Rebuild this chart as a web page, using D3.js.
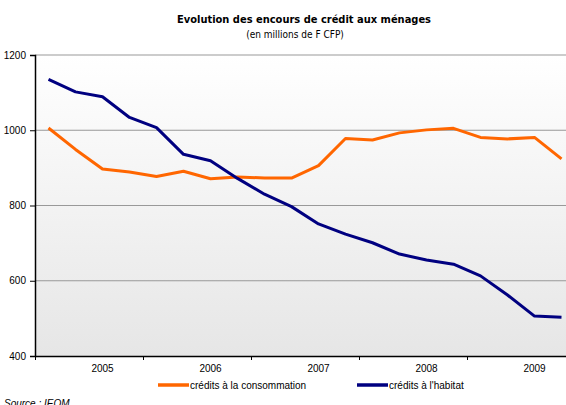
<!DOCTYPE html>
<html>
<head>
<meta charset="utf-8">
<script src="https://d3js.org/d3.v7.min.js"></script>
<style>
  body { margin: 0; background: #fff; }
  svg { display: block; }
</style>
</head>
<body>
<div id="chart"></div>
<script>
// quarterly outstanding amounts, 2005 - 2009
var quarters = ["2005T1","2005T2","2005T3","2005T4","2006T1","2006T2","2006T3","2006T4",
                "2007T1","2007T2","2007T3","2007T4","2008T1","2008T2","2008T3","2008T4",
                "2009T1","2009T2","2009T3","2009T4"];
var years = ["2005","2006","2007","2008","2009"];
var consommation = [1006, 949, 897, 889, 877, 891, 871, 876, 873, 873, 906, 978, 974, 993, 1001, 1005, 981, 977, 981, 924];
var habitat = [1135, 1102, 1089, 1034, 1007, 936, 919, 872, 830, 797, 751, 724, 701, 671, 655, 644, 613, 562, 506, 503];
var yTicks = [400, 600, 800, 1000, 1200];

var width = 566, height = 405;
var plotLeft = 35, plotRight = 575, plotTop = 55, plotBottom = 356;

var svg = d3.select("#chart").append("svg")
  .attr("width", width)
  .attr("height", height);

// background gradient of the plot area
var grad = svg.append("defs").append("linearGradient")
  .attr("id", "bg").attr("x1", 0).attr("y1", 0).attr("x2", 0).attr("y2", 1);
grad.append("stop").attr("offset", "0%").attr("stop-color", "#ffffff");
grad.append("stop").attr("offset", "100%").attr("stop-color", "#e6e6e6");

// x: one slot per quarter
var x = d3.scaleLinear().domain([0, quarters.length]).range([plotLeft, plotRight]);
var y = d3.scaleLinear().domain([400, 1200]).range([plotBottom, plotTop]);

svg.append("rect")
  .attr("x", plotLeft).attr("y", plotTop)
  .attr("width", plotRight - plotLeft).attr("height", plotBottom - plotTop)
  .attr("fill", "url(#bg)");

// gridlines
svg.append("g")
  .selectAll("line")
  .data(yTicks.filter(d => d > 400))
  .enter().append("line")
    .attr("x1", plotLeft).attr("x2", plotRight)
    .attr("y1", d => y(d)).attr("y2", d => y(d))
    .attr("stroke", "#999")
    .attr("stroke-width", 1.2);

// y axis
var yAxis = svg.append("g")
  .attr("transform", "translate(" + plotLeft + ",0)")
  .call(d3.axisLeft(y).tickValues(yTicks).tickSize(5).tickPadding(4).tickFormat(d3.format("d")));
yAxis.select(".domain").attr("stroke", "#000").attr("stroke-width", 1.5);
yAxis.selectAll(".tick line").attr("stroke", "#000");
yAxis.selectAll("text").attr("font-family", "Liberation Sans, Arial").attr("font-size", 10).attr("fill", "#000");

// x axis: ticks between years
var xAxis = svg.append("g")
  .attr("transform", "translate(0," + plotBottom + ")")
  .call(d3.axisBottom(x).tickValues(d3.range(0, quarters.length + 1, 4)).tickSize(4).tickSizeOuter(0).tickFormat(""));
xAxis.select(".domain").attr("stroke", "#000").attr("stroke-width", 1.5);
xAxis.selectAll(".tick line").attr("stroke", "#000");

// year labels
svg.append("g")
  .selectAll("text")
  .data(years)
  .enter().append("text")
    .attr("x", (d, i) => x(i * 4 + 2.5))
    .attr("y", 372)
    .attr("text-anchor", "middle")
    .attr("font-family", "Liberation Sans, Arial")
    .attr("font-size", 10)
    .text(d => d);

// series lines
var line = d3.line()
  .x((d, i) => x(i + 0.5))
  .y(d => y(d));

var series = [
  { name: "crédits à la consommation", values: consommation, color: "#ff6600" },
  { name: "crédits à l'habitat", values: habitat, color: "#000080" }
];

svg.append("g")
  .selectAll("path")
  .data(series)
  .enter().append("path")
    .attr("d", d => line(d.values))
    .attr("fill", "none")
    .attr("stroke", d => d.color)
    .attr("stroke-width", 3)
    .attr("stroke-linejoin", "round");

// titles
svg.append("text")
  .attr("x", 304).attr("y", 23)
  .attr("text-anchor", "middle")
  .attr("font-family", "DejaVu Sans Condensed, DejaVu Sans")
  .attr("font-stretch", "condensed")
  .attr("font-weight", "bold")
  .attr("font-size", 11)
  .text("Evolution des encours de crédit aux ménages");

svg.append("text")
  .attr("x", 295).attr("y", 38)
  .attr("text-anchor", "middle")
  .attr("font-family", "DejaVu Sans Condensed, DejaVu Sans")
  .attr("font-stretch", "condensed")
  .attr("font-size", 10)
  .text("(en millions de F CFP)");

// legend
var legendX = [158, 357];
var legend = svg.append("g")
  .selectAll("g")
  .data(series)
  .enter().append("g")
    .attr("transform", (d, i) => "translate(" + legendX[i] + ",385)");
legend.append("line")
  .attr("x1", 0).attr("x2", 31)
  .attr("stroke", d => d.color)
  .attr("stroke-width", 3.5);
legend.append("text")
  .attr("x", 32).attr("y", 3.5)
  .attr("font-family", "Liberation Sans, Arial")
  .attr("font-size", 10)
  .text(d => d.name);

// source
svg.append("text")
  .attr("x", 4).attr("y", 407)
  .attr("font-family", "Liberation Sans, Arial")
  .attr("font-style", "italic")
  .attr("font-size", 10)
  .text("Source : IEOM");
</script>
</body>
</html>
